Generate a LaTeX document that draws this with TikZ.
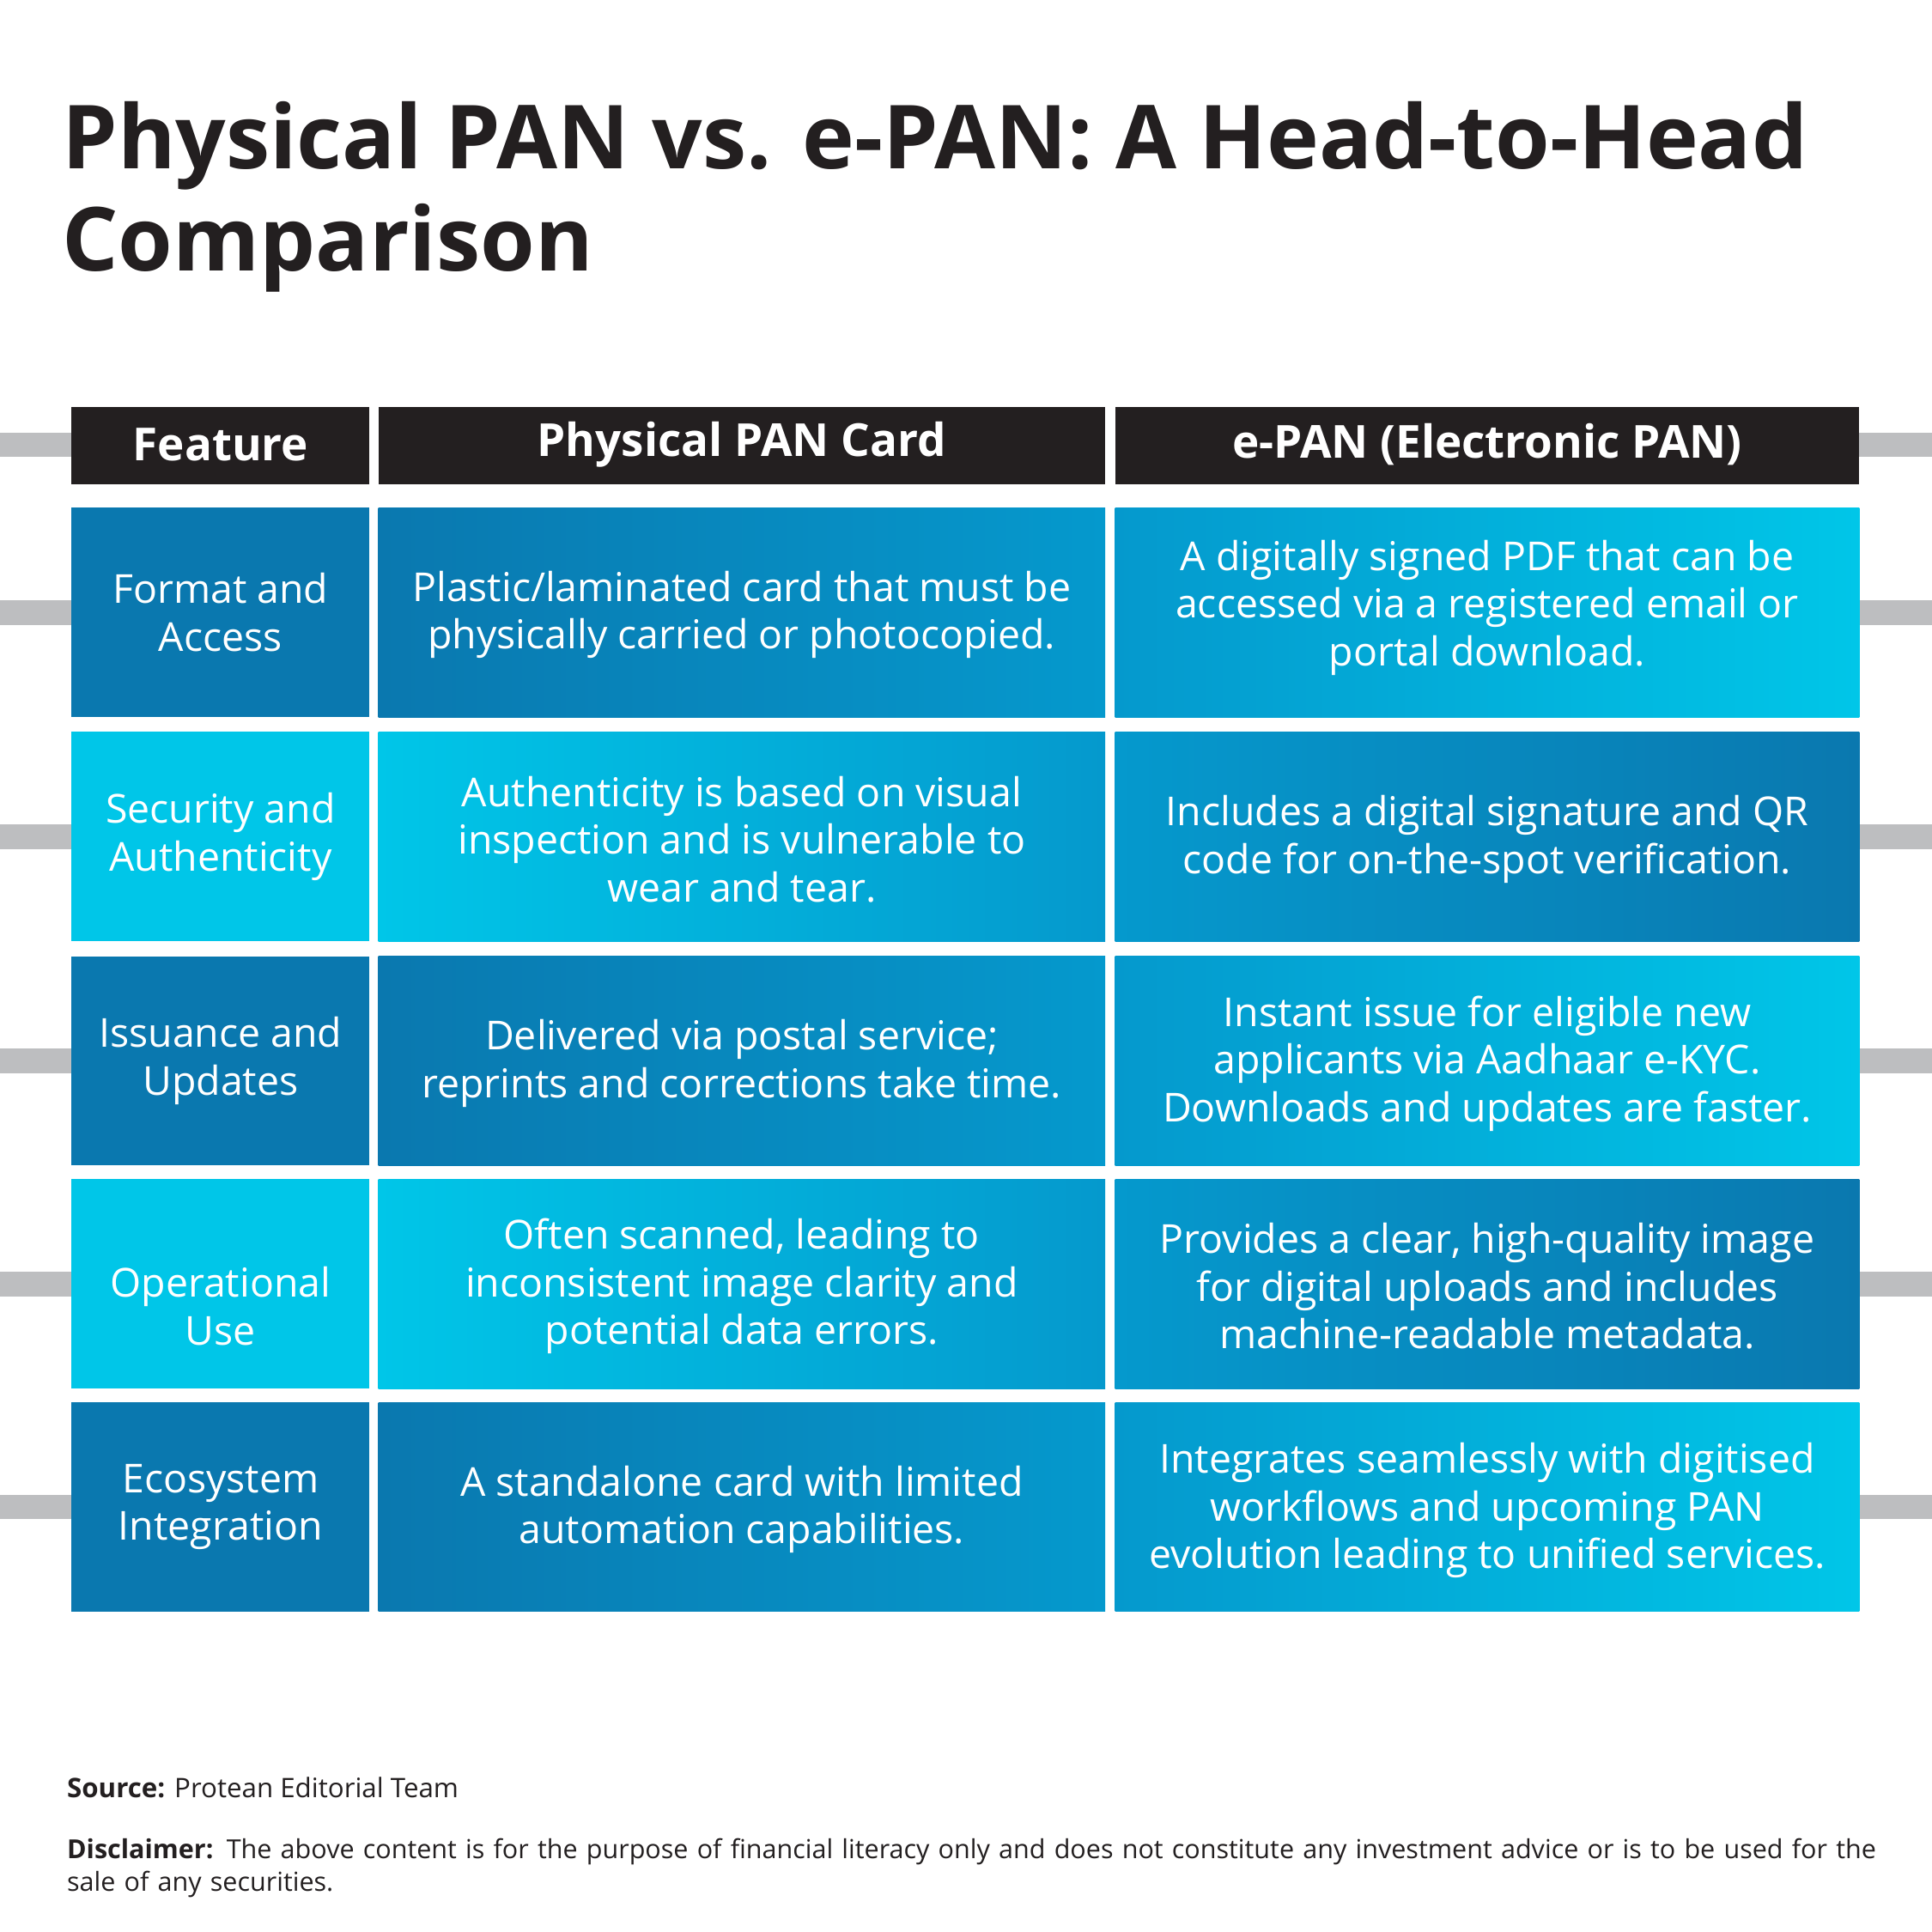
\documentclass[tikz,border=0pt]{standalone}
\usepackage{fontspec}
\setmainfont{Open Sans}
\definecolor{ink}{HTML}{231F20}
\definecolor{deep}{HTML}{0A78AF}
\definecolor{mid}{HTML}{0599CD}
\definecolor{sky}{HTML}{00C6E8}
\definecolor{bar}{HTML}{BDBEC0}
\begin{document}
\begin{tikzpicture}[x=0.01cm, y=-0.01cm,
        head/.style={text=white, font=\bfseries\fontsize{10.5}{12}\selectfont},
        cell/.style={text=white, align=center, font=\fontsize{9.2}{11}\selectfont},
        sidebar/.style={fill=bar}
    ]
    \useasboundingbox (0,0) rectangle (1568,1568);
    \fill[white] (0,0) rectangle (1568,1568);

    % side bars
    \foreach \y in {361,497,679,861,1042,1223} {
        \fill[sidebar] (0,\y-10) rectangle (58,\y+10);
        \fill[sidebar] (1509,\y-10) rectangle (1568,\y+10);
    }

    \node[anchor=north west, align=left, text=ink, font=\bfseries\fontsize{20.4}{23.5}\selectfont] (title) at (38,70)
        {Physical PAN vs. e-PAN: A Head-to-Head\\Comparison};

    % header
    \fill[ink] (58,330) rectangle (300,393);
    \fill[ink] (307,330) rectangle (897,393);
    \fill[ink] (905,330) rectangle (1509,393);
    \node[head] (hF) at (179,361) {Feature};
    \node[head] (hP) at (602,361) {Physical PAN Card};
    \node[head] (hE) at (1207,361) {e-PAN (Electronic PAN)};

    % rows: top, bottom, feature colour, physical left/right, epan left/right
    \foreach \t/\b/\fc/\pl/\pr/\el/\er in {
        412/582/deep/deep/mid/mid/sky,
        594/764/sky/sky/mid/mid/deep,
        776/946/deep/deep/mid/mid/sky,
        957/1127/sky/sky/mid/mid/deep,
        1138/1308/deep/deep/mid/mid/sky} {
        \fill[\fc] (58,\t) rectangle (300,\b);
        \shade[left color=\pl, right color=\pr] (307,\t) rectangle (897,\b);
        \shade[left color=\el, right color=\er] (905,\t) rectangle (1509,\b);
    }

    \node[cell] (f1) at (179,497) {Format and\\Access};
    \node[cell] (p1) at (602,499) {Plastic/laminated card that must be\\physically carried or photocopied.};
    \node[cell] (e1) at (1207,493) {A digitally signed PDF that can be\\accessed via a registered email or\\portal download.};

    \node[cell] (f2) at (179,679) {Security and\\Authenticity};
    \node[cell] (p2) at (602,681) {Authenticity is based on visual\\inspection and is vulnerable to\\wear and tear.};
    \node[cell] (e2) at (1207,681) {Includes a digital signature and QR\\code for on-the-spot verification.};

    \node[cell] (f3) at (179,861) {Issuance and\\Updates};
    \node[cell] (p3) at (602,863) {Delivered via postal service;\\reprints and corrections take time.};
    \node[cell] (e3) at (1207,863) {Instant issue for eligible new\\applicants via Aadhaar e-KYC.\\Downloads and updates are faster.};

    \node[cell] (f4) at (179,1060) {Operational\\Use};
    \node[cell] (p4) at (602,1044) {Often scanned, leading to\\inconsistent image clarity and\\potential data errors.};
    \node[cell] (e4) at (1207,1044) {Provides a clear, high-quality image\\for digital uploads and includes\\machine-readable metadata.};

    \node[cell] (f5) at (179,1223) {Ecosystem\\Integration};
    \node[cell] (p5) at (602,1225) {A standalone card with limited\\automation capabilities.};
    \node[cell] (e5) at (1207,1226) {Integrates seamlessly with digitised\\workflows and upcoming PAN\\evolution leading to unified services.};

    % footnotes
    \node[anchor=west, text=ink, font=\fontsize{6.2}{7.5}\selectfont] (src) at (42,1451)
        {\textbf{Source:} Protean Editorial Team};
    \node[anchor=north west, text=ink, align=left, text width=14.7cm, font=\fontsize{6.05}{7.4}\selectfont] (disc) at (42,1480)
        {\textbf{Disclaimer:} The above content is for the purpose of financial literacy only and does not constitute any investment advice or is to be used for the sale of any securities.};
\end{tikzpicture}
\end{document}
